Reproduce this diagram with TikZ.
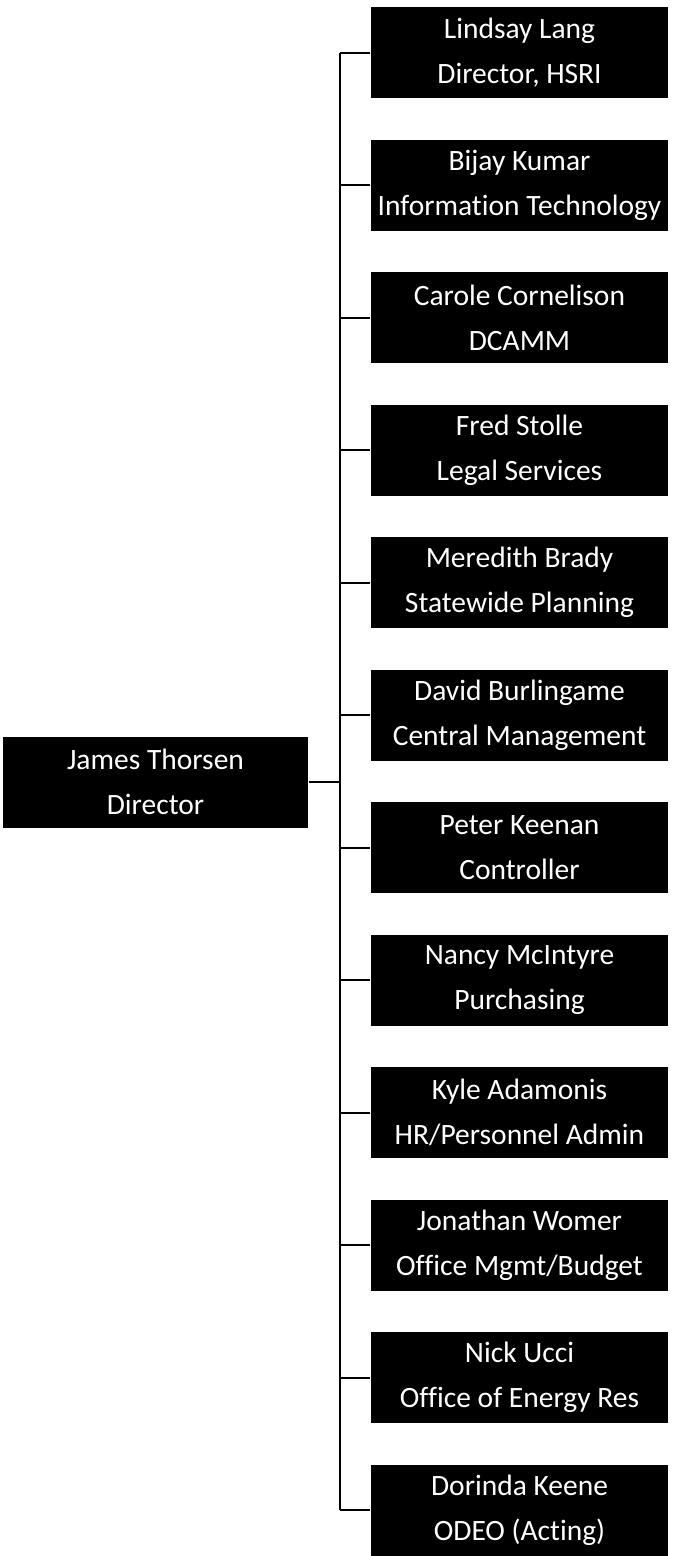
\documentclass[tikz,border=0pt]{standalone}
\usepackage{fontspec}
\setmainfont{Carlito}[Ligatures=NoCommon]
\begin{document}
\begin{tikzpicture}
        [x=1pt, y=-1pt, line width=2pt,
         box/.style={fill=black, text=white, inner sep=0pt, align=center, minimum height=91pt, font=\fontsize{29.5}{45}\selectfont}]

        \useasboundingbox (0,0) rectangle (675,1556);

        \node[box, minimum width=305pt] (director) at (155.5, 782) {James Thorsen\\Director};

        \foreach \n/\t[count=\y] in {Lindsay Lang/{Director, HSRI}, Bijay Kumar/{Information Technology}, Carole Cornelison/DCAMM, Fred Stolle/{Legal Services}, Meredith Brady/{Statewide Planning}, David Burlingame/{Central Management}, Peter Keenan/Controller, Nancy McIntyre/Purchasing, Kyle Adamonis/{HR/Personnel Admin}, Jonathan Womer/{Office Mgmt/Budget}, Nick Ucci/{Office of Energy Res}, Dorinda Keene/{ODEO (Acting)}}
        \node[box, minimum width=297pt] (staff-\y) at (519.5, {52.5+132.5*(\y-1)}) {\n\\\t};

        \coordinate (bus) at (340, 0);

        \draw (director.east) -- (director.east -| bus);
        \draw (staff-1.west -| bus) -- (staff-12.west -| bus);
        \foreach \i in {1,...,12}
        \draw (staff-\i.west) -- (staff-\i.west -| bus);
    \end{tikzpicture}
\end{document}
